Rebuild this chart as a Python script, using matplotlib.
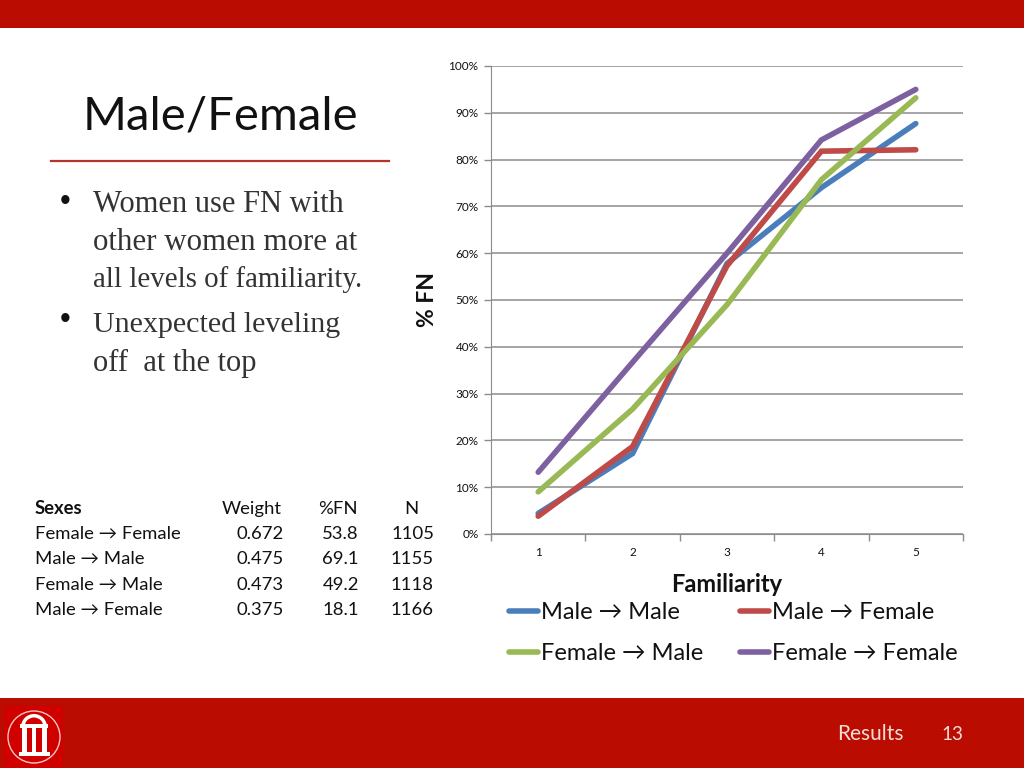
import matplotlib
matplotlib.use('Agg')
import matplotlib.pyplot as plt
from matplotlib.patches import Rectangle, Circle, Wedge
from matplotlib.ticker import FixedLocator, NullFormatter

familiarity = [1, 2, 3, 4, 5]
male_male = [4.4, 17.2, 57.8, 74.0, 87.7]
male_female = [3.8, 18.7, 57.3, 81.8, 82.1]
female_male = [9.0, 26.7, 49.0, 75.7, 93.2]
female_female = [13.2, 36.7, 60.0, 84.2, 95.0]
series_names = ['Male → Male', 'Male → Female', 'Female → Male', 'Female → Female']
series_colors = ['#4A7EBB', '#BE4B48', '#98B954', '#7D60A0']
table_header = ['Sexes', 'Weight', '%FN', 'N']
table_sexes = ['Female → Female', 'Male → Male', 'Female → Male', 'Male → Female']
table_weight = ['0.672', '0.475', '0.473', '0.375']
table_fn = ['53.8', '69.1', '49.2', '18.1']
table_n = ['1105', '1155', '1118', '1166']

SANS = ['Lato', 'Open Sans', 'DejaVu Sans']
plt.rcParams['font.family'] = SANS
RED = '#BA0C00'
W, H = 1024, 768
fig = plt.figure(figsize=(W / 100, H / 100), dpi=100, facecolor='white')

bg = fig.add_axes([0, 0, 1, 1])
bg.set_xlim(0, W)
bg.set_ylim(H, 0)
bg.axis('off')
bg.add_patch(Rectangle((0, 0), W, 28, color=RED, lw=0))
bg.add_patch(Rectangle((0, 698), W, 70, color=RED, lw=0))
# logo
bg.add_patch(Rectangle((4, 706), 59, 62, color='#D00000', lw=0))
bg.add_patch(Circle((34, 737), 26, fill=False, ec='#F4C8C0', lw=1))
for x0, w in [(22, 5), (32, 4), (42, 5)]:
    bg.add_patch(Rectangle((x0, 727), w, 26, color='white', lw=0))
bg.add_patch(Rectangle((20, 724), 28, 4, color='white', lw=0))
bg.add_patch(Rectangle((19, 752), 31, 4, color='white', lw=0))
bg.add_patch(Wedge((34, 727), 13, 180, 360, width=3.5, color='white', lw=0))

bg.text(220, 117, 'Male/Female', fontsize=34, ha='center', va='center', color='#111111', family=SANS)
bg.plot([51, 389], [160.5, 160.5], color='#B5342A', lw=1.6)

serif = 'Liberation Serif'
for y, s, fs in [(204, 'Women use FN with', 22), (242, 'other women more at', 22.3),
                 (280, 'all levels of familiarity.', 20.8), (325, 'Unexpected leveling', 21.6),
                 (363, 'off  at the top', 22)]:
    bg.text(93, y, s, fontsize=fs, family=serif, va='center', color='#333333')
for y in (202, 320):
    bg.text(65, y, '•', fontsize=22, family='Liberation Sans', va='center', ha='center', color='#111111')

# table
rows_y = [509, 534, 559.5, 585, 610]
FS = 13.3
bg.text(35, rows_y[0], table_header[0], fontsize=FS, weight='bold', va='center', color='#111111')
bg.text(282, rows_y[0], table_header[1], fontsize=FS, ha='right', va='center', color='#111111')
bg.text(358, rows_y[0], table_header[2], fontsize=FS, ha='right', va='center', color='#111111')
bg.text(419, rows_y[0], table_header[3], fontsize=FS, ha='right', va='center', color='#111111')
for i, y in enumerate(rows_y[1:]):
    bg.text(35, y, table_sexes[i], fontsize=FS, va='center', color='#111111')
    bg.text(284, y, table_weight[i], fontsize=FS, ha='right', va='center', color='#111111')
    bg.text(359, y, table_fn[i], fontsize=FS, ha='right', va='center', color='#111111')
    bg.text(434, y, table_n[i], fontsize=FS, ha='right', va='center', color='#111111')

bg.text(870, 734.5, 'Results', fontsize=15, ha='center', va='center', color='#F6DDD8')
bg.text(952, 734, '13', fontsize=13.5, ha='center', va='center', color='#F6DDD8')

# chart
ax = fig.add_axes([491 / W, 1 - 534 / H, (963 - 491) / W, (534 - 66) / H])
ax.patch.set_alpha(0)
ax.set_xlim(0.5, 5.5)
ax.set_ylim(0, 100)
for ys, c in zip([male_male, male_female, female_male, female_female], series_colors):
    ax.plot(familiarity, ys, color=c, lw=4, solid_capstyle='round', solid_joinstyle='miter', zorder=3)
ax.set_yticks(range(0, 101, 10))
ax.set_yticklabels([f'{v}%' for v in range(0, 101, 10)], fontsize=8.5, color='#111111')
ax.yaxis.grid(True, color='#8C8C8C', lw=1.1)
ax.set_axisbelow(True)
ax.xaxis.set_major_locator(FixedLocator([0.5, 1.5, 2.5, 3.5, 4.5, 5.5]))
ax.xaxis.set_major_formatter(NullFormatter())
ax.tick_params(axis='x', which='major', direction='out', length=5, color='#8C8C8C', width=1)
ax.tick_params(axis='y', length=5, color='#8C8C8C', width=1, pad=4)
for v in familiarity:
    ax.annotate(str(v), (v, 0), xytext=(0, -19), textcoords='offset pixels',
                ha='center', va='center', fontsize=8.5, color='#111111')
for s in ('top', 'right'):
    ax.spines[s].set_visible(False)
for s in ('left', 'bottom'):
    ax.spines[s].set_color('#8C8C8C')
fig.text(727 / W, 1 - 584 / H, 'Familiarity', fontsize=17, weight='bold', ha='center', va='center', color='#111111')
fig.text(427 / W, 1 - 299 / H, '% FN', fontsize=16.5, weight='bold', rotation=90, ha='center', va='center', color='#111111')

# legend
leg_pos = [(509, 611), (740, 611), (509, 652), (740, 652)]
for (lx, ly), name, c in zip(leg_pos, series_names, series_colors):
    bg.plot([lx, lx + 29], [ly, ly], color=c, lw=4, solid_capstyle='round')
    bg.text(lx + 32, ly + 1.5, name, fontsize=17, va='center', color='#111111')

fig.savefig('out.png', dpi=100)
